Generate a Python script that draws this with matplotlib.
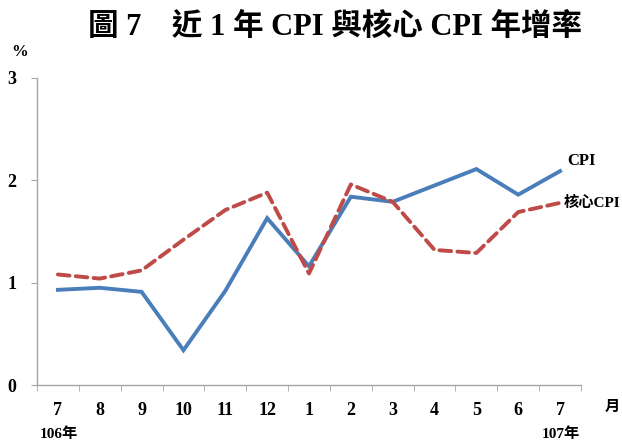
import matplotlib.pyplot as plt
import numpy as np

plt.rcParams['font.family'] = ['Liberation Serif', 'Noto Sans CJK TC', 'DejaVu Sans']

# Data (年增率, %)
months = ['7', '8', '9', '10', '11', '12', '1', '2', '3', '4', '5', '6', '7']
cpi = [0.93, 0.95, 0.91, 0.34, 0.92, 1.63, 1.16, 1.84, 1.79, 1.95, 2.11, 1.86, 2.09]
core_cpi = [1.08, 1.04, 1.12, 1.42, 1.71, 1.88, 1.09, 1.96, 1.79, 1.32, 1.29, 1.69, 1.78]
y_ticks = [0, 1, 2, 3]

blue = '#4a7ebb'
red = '#be4b48'
axis_gray = '#a6a6a6'

fig = plt.figure(figsize=(6.22, 4.41), dpi=100)
ax = fig.add_axes([37 / 622, 1 - 385 / 441, 544 / 622, 307 / 441])

x = np.arange(len(months))
ax.plot(x, cpi, color=blue, lw=2.8, solid_joinstyle='miter')
ax.plot(x, core_cpi, color=red, lw=2.8, dashes=(3.0, 1.6), dash_capstyle='round')

ax.set_xlim(-0.5, len(months) - 0.5)
ax.set_ylim(0, 3)
ax.set_yticks(y_ticks)
ax.set_yticklabels([str(v) for v in y_ticks], fontsize=13, fontweight='bold')
ax.set_xticks(x)
ax.set_xticklabels(months, fontsize=13, fontweight='bold')
ax.set_xticks(np.arange(-0.5, len(months), 1), minor=True)
ax.tick_params(axis='x', which='major', length=0, pad=12)
ax.tick_params(axis='x', which='minor', length=4, color=axis_gray, direction='out')
ax.tick_params(axis='y', length=4, color=axis_gray, pad=11)

for s in ['top', 'right']:
    ax.spines[s].set_visible(False)
for s in ['left', 'bottom']:
    ax.spines[s].set_color(axis_gray)
    ax.spines[s].set_linewidth(1.0)

# Title and annotations
fig.text(335 / 622, 1 - 27 / 441, '圖 7　近 1 年 CPI 與核心 CPI 年增率', ha='center', va='center',
         fontsize=22, fontweight='bold')
fig.text(20 / 622, 1 - 52 / 441, '%', ha='center', va='center', fontsize=12, fontweight='bold')
fig.text(612 / 622, 1 - 407 / 441, '月', ha='center', va='center', fontsize=11, fontweight='bold')
fig.text(40 / 622, 1 - 434 / 441, '106年', ha='left', va='center', fontsize=11, fontweight='bold')
fig.text(580 / 622, 1 - 434 / 441, '107年', ha='right', va='center', fontsize=11, fontweight='bold')
fig.text(567 / 622, 1 - 161 / 441, 'CPI', ha='left', va='center', fontsize=12, fontweight='bold')
fig.text(564 / 622, 1 - 203 / 441, '核心CPI', ha='left', va='center', fontsize=11, fontweight='bold')

fig.savefig('out.png', dpi=100)
